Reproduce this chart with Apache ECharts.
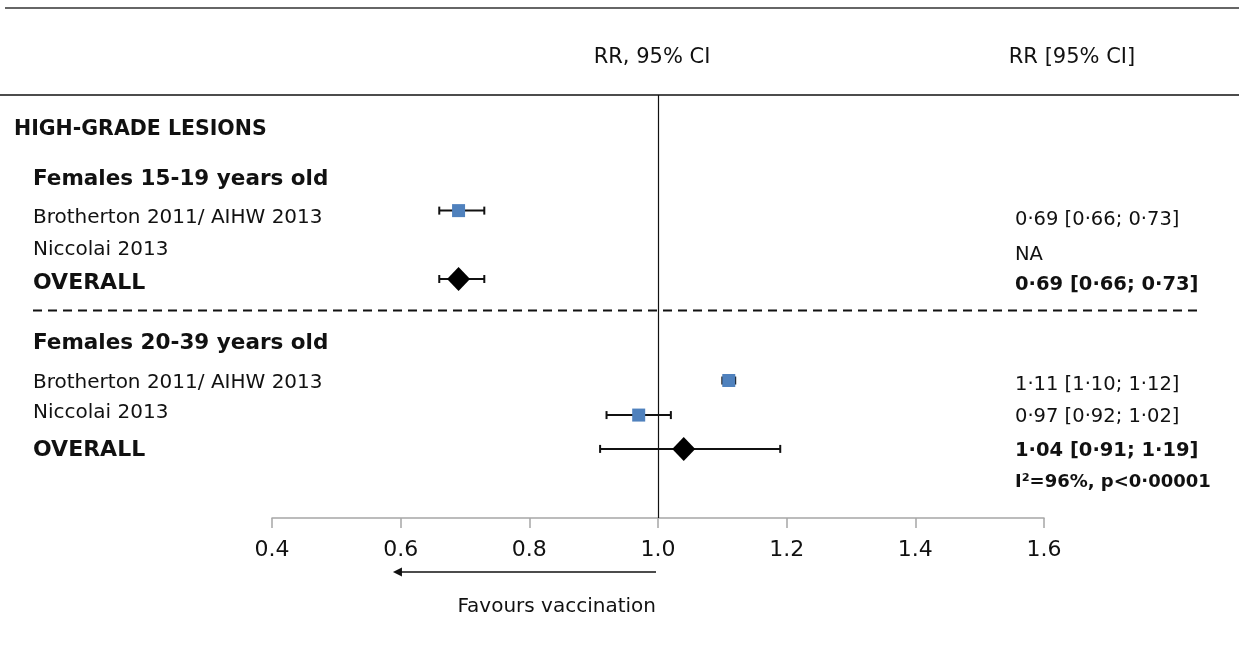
<!DOCTYPE html>
<html>
<head>
<meta charset="utf-8">
<script src="https://cdn.jsdelivr.net/npm/echarts@6/dist/echarts.min.js"></script>
<style>
  html, body { margin: 0; padding: 0; background: #fff; }
  #chart { width: 1239px; height: 657px; }
</style>
</head>
<body>
<div id="chart"></div>
<script>
// ---- data ----
const sectionTitle = 'HIGH-GRADE LESIONS';
const groupNames = ['Females 15-19 years old', 'Females 20-39 years old'];
const studyNames = ['Brotherton 2011/ AIHW 2013', 'Niccolai 2013', 'Brotherton 2011/ AIHW 2013', 'Niccolai 2013'];
const studyRR = [0.69, null, 1.11, 0.97];
const studyLo = [0.66, null, 1.10, 0.92];
const studyHi = [0.73, null, 1.12, 1.02];
const overallLabel = 'OVERALL';
const overallRR = [0.69, 1.04];
const overallLo = [0.66, 0.91];
const overallHi = [0.73, 1.19];
const heterogeneity = 'I²=96%, p<0·00001';
const axisMin = 0.4, axisMax = 1.6, axisStep = 0.2;
const headerPlot = 'RR, 95% CI';
const headerTable = 'RR [95% CI]';
const favoursText = 'Favours vaccination';

// ---- layout: vertical positions in row units (0 = top rule, 12 = axis) ----
const labelRowSection = 0.99;
const labelRowGroup = [2.40, 7.04];
const labelRowStudy = [3.49, 4.38, 8.17, 9.02];
const labelRowOverall = [5.33, 10.07];
const markRowStudy = [3.28, null, 8.10, 9.08];
const markRowOverall = [5.22, 10.04];
const textRowStudy = [3.55, 4.54, 8.23, 9.14];
const textRowOverall = [5.40, 10.10];
const textRowHet = 10.98;
const rowSeparator = 6.11;
const arrowFrom = 1.0, arrowTo = 0.588;

const font = '"DejaVu Sans", Verdana, sans-serif';
const ink = '#111';
const fmt = v => v.toFixed(2).replace('.', '·');
const ciText = (r, l, h) => r == null ? 'NA' : fmt(r) + ' [' + fmt(l) + '; ' + fmt(h) + ']';

// left-hand labels
const leftLabels = [
  { text: sectionTitle, row: labelRowSection, x: 14, size: 20.5, weight: 'bold' },
  { text: groupNames[0], row: labelRowGroup[0], x: 33, size: 21.5, weight: 'bold' },
  { text: groupNames[1], row: labelRowGroup[1], x: 33, size: 21.5, weight: 'bold' }
];
studyNames.forEach((n, i) => leftLabels.push({ text: n, row: labelRowStudy[i], x: 33, size: 20, weight: 'normal' }));
overallRR.forEach((_, i) => leftLabels.push({ text: overallLabel, row: labelRowOverall[i], x: 33, size: 22, weight: 'bold' }));

// right-hand estimates column
const rightLabels = [];
studyRR.forEach((r, i) => rightLabels.push({ text: ciText(r, studyLo[i], studyHi[i]), row: textRowStudy[i], size: 19.5, weight: 'normal' }));
overallRR.forEach((r, i) => rightLabels.push({ text: ciText(r, overallLo[i], overallHi[i]), row: textRowOverall[i], size: 19.5, weight: 'bold' }));
rightLabels.push({ text: heterogeneity, row: textRowHet, size: 18, weight: 'bold' });

// confidence intervals: [low, high, row]
const ciItems = [];
studyRR.forEach((r, i) => { if (r != null) ciItems.push([studyLo[i], studyHi[i], markRowStudy[i]]); });
overallRR.forEach((r, i) => ciItems.push([overallLo[i], overallHi[i], markRowOverall[i]]));

const squares = [];
studyRR.forEach((r, i) => { if (r != null) squares.push([r, markRowStudy[i]]); });
const diamonds = overallRR.map((r, i) => [r, markRowOverall[i]]);

const chart = echarts.init(document.getElementById('chart'), null, { renderer: 'canvas' });

function textItem(list, xFixed) {
  return (params, api) => {
    const l = list[params.dataIndex];
    const p = api.coord([axisMin, l.row]);
    return {
      type: 'text',
      style: { x: xFixed != null ? xFixed : l.x, y: p[1], text: l.text, fill: ink, fontSize: l.size, fontWeight: l.weight, fontFamily: font, align: 'left', verticalAlign: 'middle' }
    };
  };
}

chart.setOption({
  animation: false,
  backgroundColor: '#fff',
  grid: { left: 272, right: 195, top: 95, bottom: 139, containLabel: false },
  xAxis: {
    type: 'value', min: axisMin, max: axisMax, interval: axisStep,
    splitLine: { show: false },
    axisLine: { show: true, onZero: false, lineStyle: { color: '#a6a6a6', width: 1.5 } },
    axisTick: { show: true, inside: false, length: 10, lineStyle: { color: '#a6a6a6', width: 1.5 } },
    axisLabel: { margin: 21, fontSize: 22, color: ink, fontFamily: font, formatter: v => v.toFixed(1) }
  },
  yAxis: { type: 'value', inverse: true, min: 0, max: 12, show: false },
  series: [
    {
      // row labels on the left
      type: 'custom', clip: false, silent: true,
      data: leftLabels.map(l => [axisMin, l.row]),
      renderItem: textItem(leftLabels)
    },
    {
      // estimates column on the right
      type: 'custom', clip: false, silent: true,
      data: rightLabels.map(l => [axisMin, l.row]),
      renderItem: textItem(rightLabels, 1015)
    },
    {
      // dashed separator between age groups
      type: 'custom', clip: false, silent: true,
      data: [[axisMin, rowSeparator]],
      renderItem: (params, api) => {
        const p = api.coord([axisMin, rowSeparator]);
        return { type: 'line', shape: { x1: 33, y1: p[1], x2: 1200, y2: p[1] }, style: { stroke: ink, lineWidth: 2, lineDash: [9, 6] } };
      }
    },
    {
      // confidence interval whiskers with end caps
      type: 'custom', clip: false, silent: true, z: 3,
      data: ciItems,
      renderItem: (params, api) => {
        const a = api.coord([api.value(0), api.value(2)]);
        const b = api.coord([api.value(1), api.value(2)]);
        const st = { stroke: ink, lineWidth: 2 };
        return {
          type: 'group', children: [
            { type: 'line', shape: { x1: a[0], y1: a[1], x2: b[0], y2: b[1] }, style: st },
            { type: 'line', shape: { x1: a[0], y1: a[1] - 4, x2: a[0], y2: a[1] + 4 }, style: st },
            { type: 'line', shape: { x1: b[0], y1: b[1] - 4, x2: b[0], y2: b[1] + 4 }, style: st }
          ]
        };
      }
    },
    {
      name: 'Studies', type: 'scatter', z: 5, silent: true,
      symbol: 'rect', symbolSize: 13,
      itemStyle: { color: '#4f81bd', opacity: 1 },
      data: squares,
      markLine: {
        silent: true, symbol: 'none', label: { show: false },
        lineStyle: { color: ink, width: 1.2, type: 'solid' },
        data: [{ xAxis: 1.0 }]
      }
    },
    {
      name: 'Overall', type: 'scatter', z: 6, silent: true,
      symbol: 'diamond', symbolSize: [23, 24],
      itemStyle: { color: '#000', opacity: 1 },
      data: diamonds
    }
  ],
  graphic: [
    { id: 'topRule', type: 'line', shape: { x1: 5, y1: 8, x2: 1239, y2: 8 }, style: { stroke: '#666', lineWidth: 2 } },
    { id: 'headRule', type: 'line', shape: { x1: 0, y1: 95, x2: 1239, y2: 95 }, style: { stroke: ink, lineWidth: 1.5 } },
    { id: 'headPlot', type: 'text', x: 652, y: 58, style: { text: headerPlot, fill: ink, fontSize: 21, fontFamily: font, align: 'center', verticalAlign: 'middle' } },
    { id: 'headTable', type: 'text', x: 1072, y: 58, style: { text: headerTable, fill: ink, fontSize: 21, fontFamily: font, align: 'center', verticalAlign: 'middle' } }
  ]
});

// "favours" arrow under the axis, pointing left from the line of no effect
const xNull = chart.convertToPixel({ xAxisIndex: 0 }, arrowFrom) - 2;
const xTip = chart.convertToPixel({ xAxisIndex: 0 }, arrowTo);
chart.setOption({
  graphic: [
    { id: 'arrowLine', type: 'line', shape: { x1: xNull, y1: 572, x2: xTip + 6, y2: 572 }, style: { stroke: ink, lineWidth: 1.5 } },
    { id: 'arrowHead', type: 'polygon', shape: { points: [[xTip, 572], [xTip + 9, 567.5], [xTip + 9, 576.5]] }, style: { fill: ink } },
    { id: 'favours', type: 'text', x: xNull, y: 607, style: { text: favoursText, fill: ink, fontSize: 20, fontFamily: font, align: 'right', verticalAlign: 'middle' } }
  ]
});
</script>
</body>
</html>
